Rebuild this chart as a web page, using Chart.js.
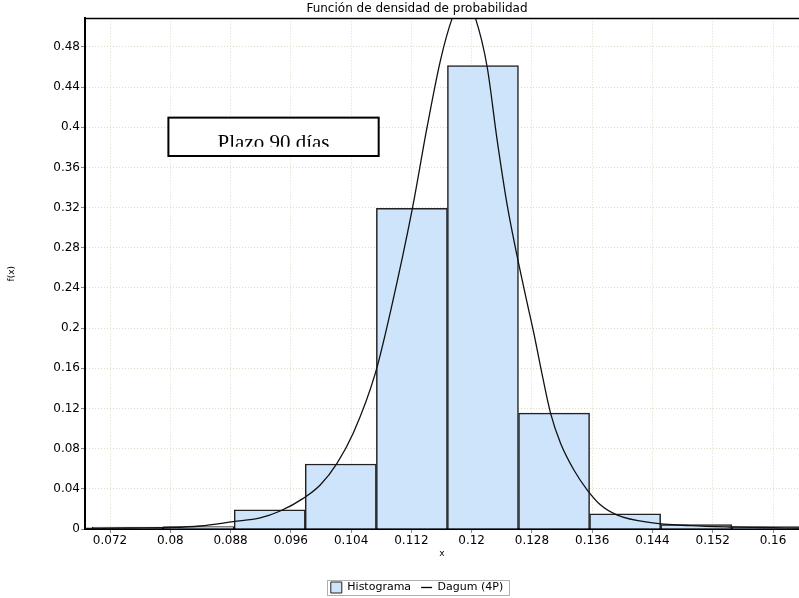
<!DOCTYPE html>
<html>
<head>
<meta charset="utf-8">
<script src="https://cdn.jsdelivr.net/npm/chart.js@4.4.1/dist/chart.umd.min.js"></script>
<style>
  html, body { margin: 0; padding: 0; background: #fff; }
</style>
</head>
<body>
<canvas id="chart" width="799" height="598"></canvas>
<script>
// histogram: bin centres and heights
const binCenters = [0.07433, 0.08376, 0.0932, 0.10263, 0.11207, 0.1215, 0.13094, 0.14037, 0.14981, 0.15924];
const binHeights = [0.0018, 0.0025, 0.0192, 0.0647, 0.3194, 0.4614, 0.1154, 0.0152, 0.0043, 0.0023];

// Dagum (4P) fitted density
const curveX = [0.06868, 0.07466, 0.07997, 0.08396, 0.08835, 0.09193, 0.09459, 0.09765, 0.0999, 0.10213,
                0.10429, 0.10722, 0.10948, 0.11209, 0.11409, 0.11586, 0.11741, 0.11891, 0.12051, 0.12206,
                0.12339, 0.12472, 0.12605, 0.12738, 0.12826, 0.12915, 0.13048, 0.1318, 0.13357, 0.13535,
                0.13712, 0.13934, 0.14377, 0.14908, 0.15413, 0.15839, 0.16357];
const curveY = [0.0005, 0.001, 0.0015, 0.003, 0.0073, 0.011, 0.0179, 0.0305, 0.0438, 0.0654,
                0.0955, 0.1552, 0.2249, 0.3174, 0.4003, 0.4667, 0.5084, 0.532, 0.5084, 0.460,
                0.387, 0.3224, 0.2711, 0.2246, 0.1947, 0.1615, 0.1151, 0.0853, 0.0587, 0.0388,
                0.0239, 0.0139, 0.0063, 0.0033, 0.002, 0.0015, 0.001];

const xTicks = [0.072, 0.08, 0.088, 0.096, 0.104, 0.112, 0.12, 0.128, 0.136, 0.144, 0.152, 0.16];
const xTickLabels = ['0.072', '0.08', '0.088', '0.096', '0.104', '0.112', '0.12', '0.128', '0.136', '0.144', '0.152', '0.16'];
const yTicks = [0, 0.04, 0.08, 0.12, 0.16, 0.2, 0.24, 0.28, 0.32, 0.36, 0.4, 0.44, 0.48];
const yTickLabels = ['0', '0.04', '0.08', '0.12', '0.16', '0.2', '0.24', '0.28', '0.32', '0.36', '0.4', '0.44', '0.48'];

const xMin = 0.06868, xMax = 0.16345;
const yMax = 0.5084;

const barFill = '#cde4fb';
const gridColor = 'rgba(205,205,175,0.7)';

Chart.defaults.font.family = "'DejaVu Sans', sans-serif";
Chart.defaults.color = '#000';

// top frame line, y title, text box and legend frame
const extras = {
    id: 'extras',
    afterDraw(chart) {
        const { ctx, chartArea: a, scales } = chart;
        const x = scales.x, y = scales.y;
        ctx.save();

        ctx.strokeStyle = '#000';
        ctx.lineWidth = 1.5;
        ctx.beginPath();
        ctx.moveTo(a.left, a.top);
        ctx.lineTo(a.right, a.top);
        ctx.stroke();

        // y axis title
        ctx.save();
        ctx.translate(12, (a.top + a.bottom) / 2);
        ctx.rotate(-Math.PI / 2);
        ctx.font = "9px 'DejaVu Sans'";
        ctx.fillStyle = '#000';
        ctx.textAlign = 'center';
        ctx.textBaseline = 'middle';
        ctx.fillText('f(x)', 0, 0);
        ctx.restore();

        // "Plazo 90 días" box
        const bx0 = x.getPixelForValue(0.07975), bx1 = x.getPixelForValue(0.10766);
        const by0 = y.getPixelForValue(0.4096), by1 = y.getPixelForValue(0.3714);
        ctx.fillStyle = '#fff';
        ctx.fillRect(bx0, by0, bx1 - bx0, by1 - by0);
        ctx.save();
        ctx.beginPath();
        ctx.rect(bx0, by0, bx1 - bx0, 29);
        ctx.clip();
        ctx.font = "21px 'Liberation Serif'";
        ctx.fillStyle = '#000';
        ctx.textAlign = 'center';
        ctx.textBaseline = 'alphabetic';
        ctx.fillText('Plazo 90 días', (bx0 + bx1) / 2, by0 + 31);
        ctx.restore();
        ctx.lineWidth = 2;
        ctx.strokeStyle = '#000';
        ctx.strokeRect(bx0, by0, bx1 - bx0, by1 - by0);

        // frame round the legend
        const hb = chart.legend.legendHitBoxes;
        if (hb && hb.length) {
            const first = hb[0], last = hb[hb.length - 1];
            const lx0 = first.left - 4, lx1 = last.left + last.width + 6;
            ctx.strokeStyle = '#b0b0b0';
            ctx.lineWidth = 1;
            ctx.strokeRect(Math.round(lx0) + 0.5, Math.round(first.top - 2) + 0.5,
                           Math.round(lx1 - lx0), Math.round(first.height + 4));
        }
        ctx.restore();
    }
};

const bars = binCenters.map((c, i) => ({ x: c, y: binHeights[i] }));
const curve = curveX.map((v, i) => ({ x: v, y: curveY[i] }));

new Chart(document.getElementById('chart').getContext('2d'), {
    type: 'bar',
    data: {
        datasets: [{
            type: 'bar',
            label: 'Histograma',
            data: bars,
            xAxisID: 'xBins',
            yAxisID: 'y',
            backgroundColor: barFill,
            borderColor: '#222',
            borderWidth: 1.5,
            barPercentage: 1,
            categoryPercentage: 1,
            grouped: false,
            clip: 0,
            order: 2
        }, {
            type: 'line',
            label: 'Dagum (4P)',
            data: curve,
            xAxisID: 'x',
            yAxisID: 'y',
            borderColor: '#111',
            borderWidth: 1.3,
            pointRadius: 0,
            fill: false,
            cubicInterpolationMode: 'monotone',
            clip: 0,
            order: 1
        }]
    },
    options: {
        responsive: false,
        animation: false,
        layout: { padding: { left: 35, right: 0, top: 0, bottom: -5 } },
        plugins: {
            title: {
                display: true,
                text: 'Función de densidad de probabilidad',
                font: { size: 12, weight: 'normal' },
                color: '#000',
                padding: { top: 2, bottom: 2 }
            },
            legend: {
                position: 'bottom',
                labels: {
                    usePointStyle: true,
                    pointStyleWidth: 11,
                    boxHeight: 11,
                    padding: 10,
                    font: { size: 11 },
                    color: '#000',
                    generateLabels: () => [
                        { text: 'Histograma', fillStyle: barFill, strokeStyle: '#222', lineWidth: 1, pointStyle: 'rect', datasetIndex: 0 },
                        { text: 'Dagum (4P)', fillStyle: '#000', strokeStyle: '#000', lineWidth: 1.3, pointStyle: 'line', datasetIndex: 1 }
                    ]
                }
            },
            tooltip: { enabled: false }
        },
        scales: {
            x: {
                type: 'linear',
                position: 'bottom',
                min: xMin,
                max: xMax,
                offset: false,
                afterBuildTicks: (s) => { s.ticks = xTicks.map(v => ({ value: v })); },
                ticks: {
                    callback: (v, i) => xTickLabels[i],
                    font: { size: 12 },
                    color: '#000',
                    padding: 1,
                    autoSkip: false,
                    maxRotation: 0
                },
                grid: { offset: false, color: gridColor, tickColor: '#888', tickLength: 4 },
                border: { display: true, color: '#000', width: 2, dash: [1, 2] },
                title: {
                    display: true,
                    text: 'x',
                    font: { size: 9, lineHeight: 1 },
                    padding: { top: 0, bottom: 13.6 }
                }
            },
            xBins: {
                type: 'linear',
                axis: 'x',
                display: false,
                offset: false,
                min: xMin,
                max: xMax,
                grid: { offset: false },
                afterBuildTicks: (s) => { s.ticks = [{ value: xMin }]; }
            },
            y: {
                type: 'linear',
                position: 'left',
                min: 0,
                max: yMax,
                afterBuildTicks: (s) => { s.ticks = yTicks.map(v => ({ value: v })); },
                afterFit: (s) => { s.width = 50; },
                ticks: {
                    callback: (v, i) => yTickLabels[i],
                    font: { size: 12 },
                    color: '#000',
                    padding: 1
                },
                grid: { color: gridColor, tickColor: '#888', tickLength: 4 },
                border: { display: true, color: '#000', width: 2, dash: [1, 2] }
            }
        }
    },
    plugins: [extras]
});
</script>
</body>
</html>
